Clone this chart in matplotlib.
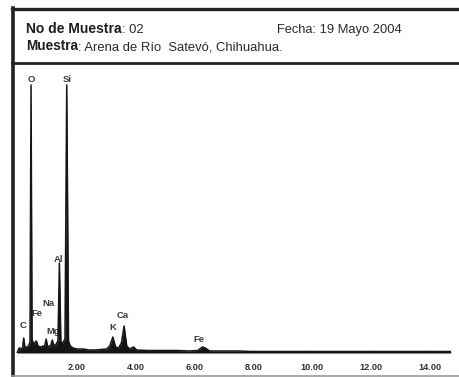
import matplotlib
matplotlib.use("Agg")
import matplotlib.pyplot as plt
from matplotlib.lines import Line2D
import numpy as np

W, H = 460, 377

# Spectrum: energy (keV) and intensity (arb. units)
energy = [0.05, 0.12, 0.20, 0.24, 0.277, 0.32, 0.38, 0.44, 0.49, 0.525, 0.56,
          0.62, 0.705, 0.76, 0.85, 0.93, 0.98, 1.04, 1.09, 1.15, 1.20, 1.25,
          1.30, 1.38, 1.44, 1.49, 1.54, 1.60, 1.68, 1.74, 1.80, 1.86, 1.95,
          2.10, 2.30, 2.50, 2.70, 2.90, 3.10, 3.20, 3.31, 3.40, 3.50, 3.60,
          3.69, 3.78, 3.88, 4.01, 4.12, 4.50, 5.00, 5.50, 5.90, 6.20, 6.35,
          6.45, 6.60, 7.00, 7.60, 8.00, 9.00, 10.00, 11.00, 12.00, 13.00,
          14.00, 14.80]
intensity = [0, 5, 4, 6, 15, 5, 6, 7, 11, 268, 13,
             9, 12, 7, 6, 7, 6, 14, 6, 7, 8, 13,
             7, 9, 12, 90, 11, 10, 14, 268, 12, 7, 5,
             4, 4, 3, 3, 3.5, 4, 7, 16, 6, 5, 10,
             27, 7, 4, 6, 3, 2.5, 2.5, 2.5, 2, 2.5, 6,
             5, 2, 2, 2, 1.5, 1.5, 1.5, 1.5, 1.5, 1.5,
             1.5, 1.5]

# Element labels (name, energy, label height)
label_names = ["O", "Si", "Al", "Na", "Fe", "C", "Mg", "K", "Ca", "Fe"]
label_energy = [0.525, 1.74, 1.47, 1.10, 0.72, 0.26, 1.27, 3.30, 3.65, 6.25]
label_height = [273, 273, 93, 49, 39, 28, 21, 25, 38, 14]

tick_values = [2, 4, 6, 8, 10, 12, 14]
tick_labels = ["2.00", "4.00", "6.00", "8.00", "10.00", "12.00", "14.00"]

fig = plt.figure(figsize=(W / 100, H / 100), dpi=100)
fig.patch.set_facecolor("white")

def fx(px):
    return px / W

def fy(py):
    return 1 - py / H

# Frame lines
frame_col = "#222222"
fig.add_artist(Line2D([fx(12), fx(460)], [fy(9), fy(9)], color=frame_col, lw=2.4))
fig.add_artist(Line2D([fx(12), fx(460)], [fy(63), fy(63)], color=frame_col, lw=2.0))
fig.add_artist(Line2D([fx(13), fx(13)], [fy(8), fy(377)], color=frame_col, lw=2.6))
fig.add_artist(Line2D([fx(12), fx(460)], [fy(376), fy(376)], color="#9a9a9a", lw=1.2))

# Header texts
hdr_col = "#1e1e1e"
renderer = fig.canvas.get_renderer()

def bold_then_regular(x_px, y_px, bold, regular, bsize):
    t = fig.text(fx(x_px), fy(y_px), bold, fontsize=bsize, fontweight="bold",
                 family="Liberation Sans", color=hdr_col, va="baseline")
    bb = t.get_window_extent(renderer=renderer)
    fig.text(bb.x1 / W, fy(y_px), regular, fontsize=9.4,
             family="Liberation Sans", color="#2a2a2a", va="baseline")

bold_then_regular(26, 33, "No de Muestra", ": 02", 10.0)
bold_then_regular(26, 50, "Muestra", ": Arena de Río  Satevó, Chihuahua.", 9.8)
fig.text(fx(277), fy(33), "Fecha: 19 Mayo 2004", fontsize=9.3,
         family="Liberation Sans", color="#2a2a2a", va="baseline")

# Spectrum axes: x=0 at px 15.6, 29.4 px per keV; baseline at y=353, 1 unit = 1 px
x0_px, scale = 15.6, 29.4
xmax = 14.8
base_px = 353
top_px = 70
ax = fig.add_axes([fx(x0_px), fy(base_px), (xmax * scale) / W, (base_px - top_px) / H])
ax.set_xlim(0, xmax)
ax.set_ylim(0, base_px - top_px)
ax.axis("off")

ax.fill_between(energy, 0, intensity, color="#151515", lw=0, zorder=3)
ax.plot(energy, intensity, color="#151515", lw=1.1, zorder=3)
ax.axhline(0, xmin=0.1 / xmax, color="#8a8a8a", lw=1.4, zorder=2)

for v, lab in zip(tick_values, tick_labels):
    ax.plot([v, v], [0, 2], color="#8a8a8a", lw=0.8, zorder=2)
    ax.annotate(lab, (v, 0), xytext=(2.5, -14),
                textcoords="offset pixels", ha="center", va="center",
                fontsize=6.6, fontweight="bold", family="Liberation Sans",
                color="#333333", annotation_clip=False)

for name, e, h in zip(label_names, label_energy, label_height):
    ax.text(e, h, name, ha="center", va="center", fontsize=6.8,
            fontweight="bold", family="Liberation Sans", color="#3a3a3a", zorder=2)

fig.savefig("out.png", dpi=100, facecolor="white")
